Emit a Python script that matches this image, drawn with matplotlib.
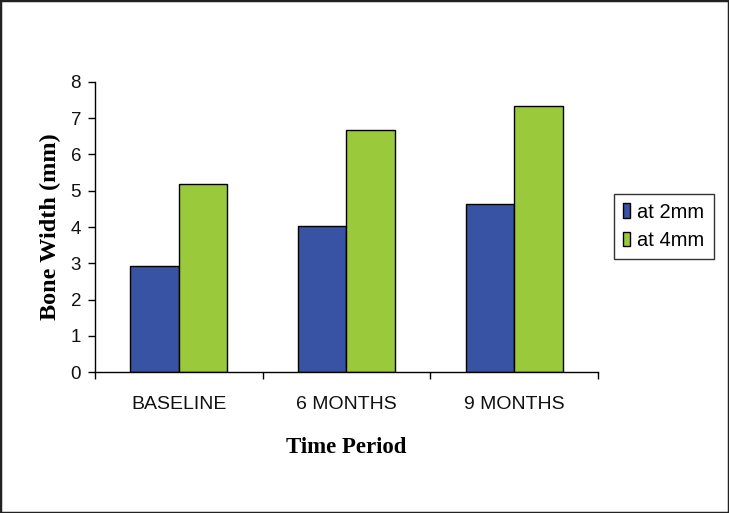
import matplotlib
matplotlib.use("Agg")
import matplotlib.pyplot as plt
import numpy as np
from matplotlib.patches import Rectangle

categories = ["BASELINE", "6 MONTHS", "9 MONTHS"]
series_names = ["at 2mm", "at 4mm"]
at_2mm = [2.93, 4.02, 4.62]
at_4mm = [5.19, 6.66, 7.32]
colors = ["#3953A4", "#9BC93C"]

fig = plt.figure(figsize=(7.29, 5.13), dpi=100)
ax = fig.add_axes([0.1303, 0.2743, 0.6900, 0.5664])

x = np.arange(len(categories))
w = 0.29
ax.bar(x - w / 2, at_2mm, w, color=colors[0], edgecolor="black", linewidth=1, label=series_names[0])
ax.bar(x + w / 2, at_4mm, w, color=colors[1], edgecolor="black", linewidth=1, label=series_names[1])

ax.set_xlim(-0.5, 2.5)
ax.set_ylim(0, 8)
ax.set_yticks(range(0, 9))
ax.set_xticks([-0.5, 0.5, 1.5, 2.5])
ax.set_xticklabels([])
ax.set_xticks(x, minor=True)
ax.set_xticklabels(categories, minor=True, fontsize=14, family="Liberation Sans", color="#111111")
ax.tick_params(axis="x", which="minor", length=0, pad=17)
ax.tick_params(axis="x", which="major", length=5, direction="out", width=1)
ax.tick_params(axis="y", length=5, direction="out", width=1, labelsize=13.5, pad=5)
for lab in ax.get_yticklabels():
    lab.set_family("Liberation Sans")
    lab.set_color("#111111")

for s in ["top", "right"]:
    ax.spines[s].set_visible(False)
for s in ["left", "bottom"]:
    ax.spines[s].set_linewidth(1)

ax.set_ylabel("Bone Width (mm)", family="Liberation Serif", fontweight="bold", fontsize=17.5, labelpad=7)
ax.set_xlabel("Time Period", family="Liberation Serif", fontweight="bold", fontsize=16.5, labelpad=17)

leg = ax.legend(loc="center left", bbox_to_anchor=(1.032, 0.502), frameon=True, fancybox=False,
                edgecolor="black", prop={"family": "Liberation Sans", "size": 14.5},
                handlelength=0.35, handleheight=0.75, handletextpad=0.35, borderpad=0.45, labelspacing=0.45,
                borderaxespad=0)
leg.get_frame().set_linewidth(1)

fig.patches.append(Rectangle((0, 0), 1, 1, transform=fig.transFigure, fill=False,
                             edgecolor="#222222", linewidth=2.5))

fig.savefig("out.png", dpi=100)
